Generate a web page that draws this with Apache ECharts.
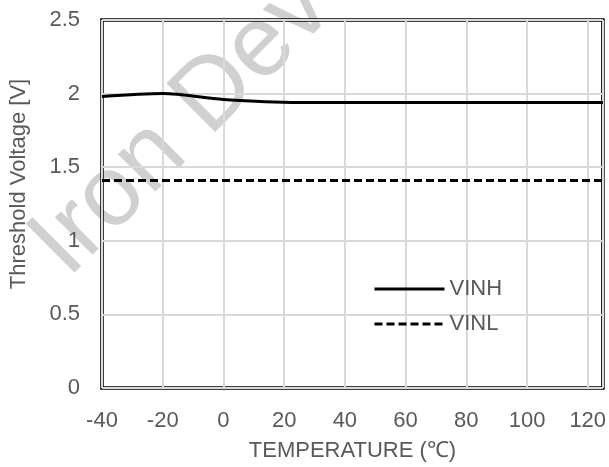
<!DOCTYPE html>
<html>
<head>
<meta charset="utf-8">
<script src="https://cdn.jsdelivr.net/npm/echarts@6/dist/echarts.min.js"></script>
<style>
  html, body { margin: 0; padding: 0; background: #fff; }
  #chart { width: 609px; height: 467px; }
</style>
</head>
<body>
<div id="chart"></div>
<script>
// temperatures (°C) and measured thresholds (V)
var temps = [-40, -20, 0, 25, 50, 85, 105, 125];
var vinh = [1.98, 2.0, 1.96, 1.94, 1.94, 1.94, 1.94, 1.94];
var vinl = [1.41, 1.41, 1.41, 1.41, 1.41, 1.41, 1.41, 1.41];

function pairs(xs, ys) {
  return xs.map(function (x, i) { return [x, ys[i]]; });
}

var chart = echarts.init(document.getElementById('chart'));
var textColor = '#595959';
var font = 'Liberation Sans, Arial, sans-serif';

var option = {
  backgroundColor: '#fff',
  animation: false,
  textStyle: { fontFamily: font },
  graphic: [
    {
      // faint watermark behind the plot
      type: 'text',
      z: -10,
      x: 182,
      y: 126,
      rotation: 45 * Math.PI / 180,
      style: {
        text: 'Iron Dev',
        fontFamily: font,
        fontSize: 100,
        fill: '#d0d0d0',
        align: 'center',
        verticalAlign: 'middle'
      }
    }
  ],
  grid: {
    left: 99,
    right: 5,
    top: 20,
    bottom: 74,
    show: true,
    borderColor: '#000',
    borderWidth: 3.5,
    backgroundColor: 'transparent'
  },
  legend: {
    orient: 'vertical',
    left: 368,
    top: 273,
    itemWidth: 70,
    itemHeight: 14,
    itemGap: 13,
    itemStyle: { opacity: 0 },
    lineStyle: { width: 3 },
    textStyle: { color: textColor, fontSize: 22, fontFamily: font },
    data: ['VINH', 'VINL']
  },
  xAxis: {
    type: 'value',
    min: -40,
    max: 125,
    interval: 20,
    name: 'TEMPERATURE (℃)',
    nameLocation: 'middle',
    nameGap: 52,
    nameTextStyle: { color: textColor, fontSize: 22, fontFamily: font },
    axisLine: { show: false },
    axisTick: { show: false },
    axisLabel: { color: textColor, fontSize: 22, margin: 22, showMaxLabel: false, fontFamily: font },
    splitLine: { show: true, lineStyle: { color: '#d9d9d9', width: 2 } }
  },
  yAxis: {
    type: 'value',
    min: 0,
    max: 2.5,
    interval: 0.5,
    name: 'Threshold Voltage [V]',
    nameLocation: 'middle',
    nameGap: 72,
    nameTextStyle: { color: textColor, fontSize: 22, fontFamily: font, padding: [0, 0, 0, 40] },
    axisLine: { show: false },
    axisTick: { show: false },
    axisLabel: { color: textColor, fontSize: 22, margin: 22, fontFamily: font },
    splitLine: { show: true, lineStyle: { color: '#d9d9d9', width: 2 } }
  },
  series: [
    {
      name: 'VINH',
      type: 'line',
      data: pairs(temps, vinh),
      smooth: 0.3,
      symbol: 'none',
      color: '#000',
      lineStyle: { color: '#000', width: 3 }
    },
    {
      name: 'VINL',
      type: 'line',
      data: pairs(temps, vinl),
      symbol: 'none',
      color: '#000',
      lineStyle: { color: '#000', width: 3, type: [8, 4] }
    }
  ]
};

chart.setOption(option);
</script>
</body>
</html>
